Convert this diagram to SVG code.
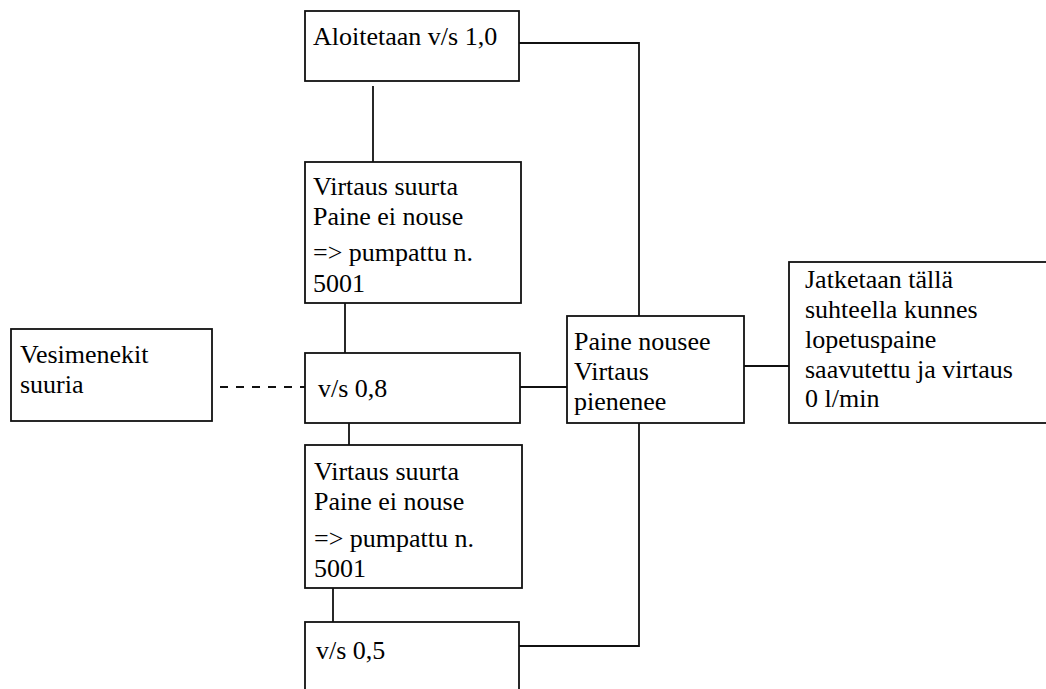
<svg xmlns="http://www.w3.org/2000/svg" width="1046" height="689" viewBox="0 0 1046 689">
<style>
.box{fill:#fff;stroke:#111;stroke-width:1.8}
.c{fill:none;stroke:#111;stroke-width:1.8}
.d{fill:none;stroke:#111;stroke-width:1.8;stroke-dasharray:8 8}
.t{font-family:'Liberation Serif','Times New Roman','DejaVu Serif',serif;font-size:26px;fill:#000}
</style>
<rect width="1046" height="689" fill="#fff"/>
<g id="connectors">
<path class="c" d="M519,43 H639 V316"/>
<path class="c" d="M373,86 V162"/>
<path class="c" d="M345,303 V353"/>
<path class="d" d="M220,387 H305"/>
<path class="c" d="M520,387 H567"/>
<path class="c" d="M349,423 V445"/>
<path class="c" d="M744,366 H789"/>
<path class="c" d="M639,423 V646 H519"/>
<path class="c" d="M333,588 V622"/>
</g>
<g class="t" font-family="Liberation Serif, Times New Roman, DejaVu Serif, serif">
<g id="n-start"><rect class="box" x="305" y="11" width="214" height="70"/><text x="313" y="45">Aloitetaan v/s 1,0</text></g>
<g id="n-virtaus1"><rect class="box" x="305" y="162" width="216" height="141"/>
<text x="313" y="195">Virtaus suurta</text><text x="313" y="225">Paine ei nouse</text><text x="313" y="261">=&gt; pumpattu n.</text><text x="313" y="292">5001</text></g>
<g id="n-vesimenekit"><rect class="box" x="11" y="329" width="201" height="92"/><text x="20" y="363">Vesimenekit</text><text x="20" y="393">suuria</text></g>
<g id="n-vs08"><rect class="box" x="305" y="353" width="215" height="70"/><text x="318" y="397">v/s 0,8</text></g>
<g id="n-paine"><rect class="box" x="567" y="316" width="177" height="107"/><text x="574" y="350">Paine nousee</text><text x="574" y="380">Virtaus</text><text x="574" y="410">pienenee</text></g>
<g id="n-jatketaan"><rect class="box" x="789" y="262" width="270" height="161"/>
<text x="805" y="288">Jatketaan tällä</text><text x="805" y="318">suhteella kunnes</text><text x="805" y="348">lopetuspaine</text><text x="805" y="378">saavutettu ja virtaus</text><text x="805" y="407">0 l/min</text></g>
<g id="n-virtaus2"><rect class="box" x="305" y="445" width="217" height="143"/>
<text x="314" y="480">Virtaus suurta</text><text x="314" y="510">Paine ei nouse</text><text x="314" y="547">=&gt; pumpattu n.</text><text x="314" y="577">5001</text></g>
<g id="n-vs05"><rect class="box" x="305" y="622" width="214" height="80"/><text x="316" y="659">v/s 0,5</text></g>
</g>
</svg>
